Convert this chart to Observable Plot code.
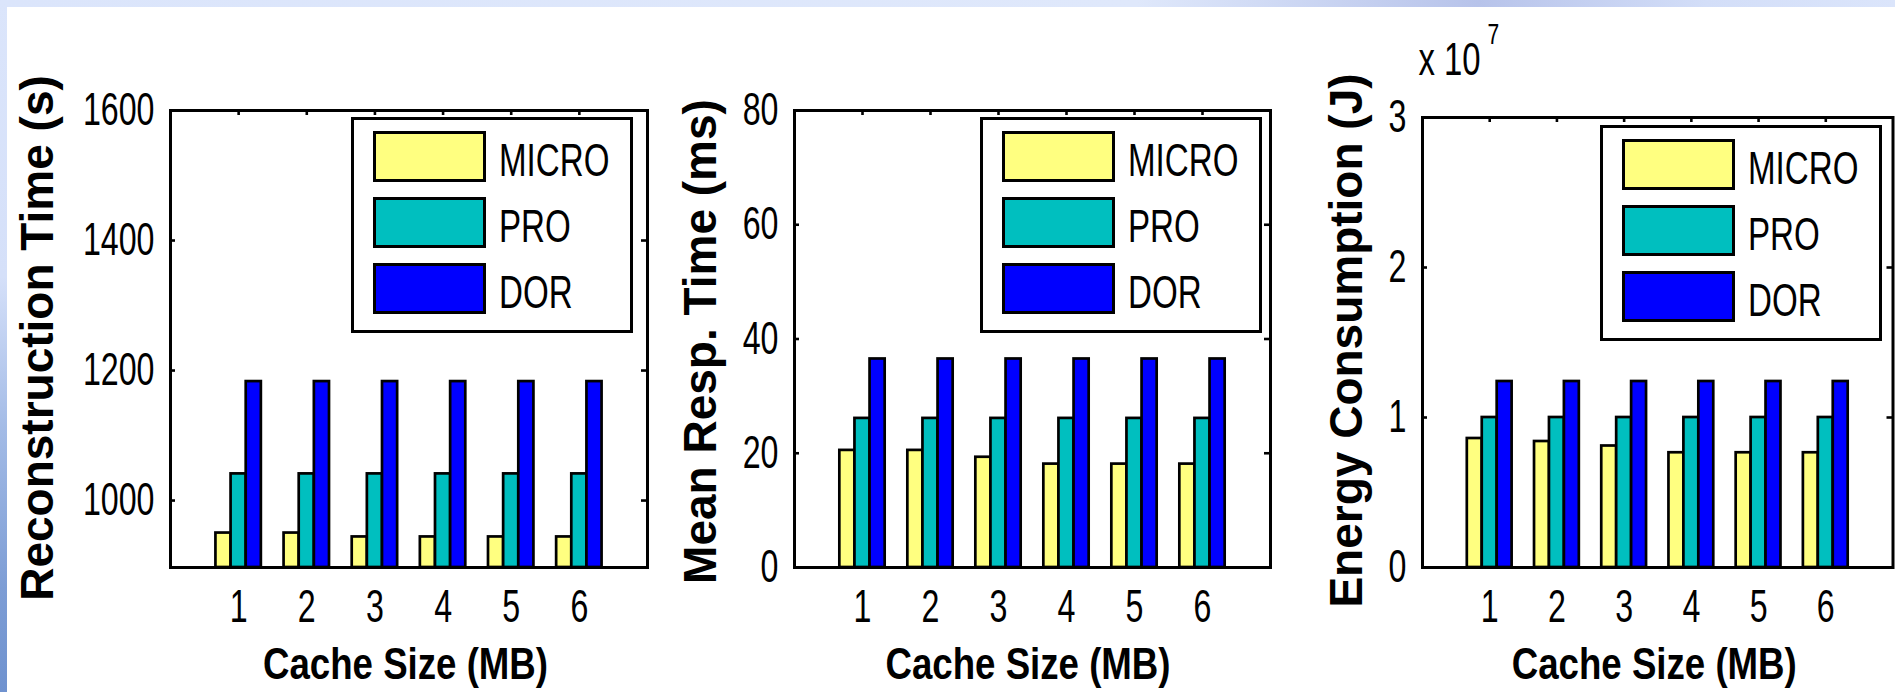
<!DOCTYPE html>
<html>
<head>
<meta charset="utf-8">
<script src="https://cdn.jsdelivr.net/npm/d3@7"></script>
<script src="https://cdn.jsdelivr.net/npm/@observablehq/plot@0.6"></script>
<style>
  html, body { margin: 0; padding: 0; background: #fff; }
  #wrap { position: relative; width: 1895px; height: 692px; overflow: hidden; background: #fff;
          font-family: "Liberation Sans", Arial, sans-serif; }
  #topband { position: absolute; left: 0; top: 0; width: 1895px; height: 7px;
             background: linear-gradient(to right, #dbe5fb, #dfe8fb 60%, #b7c3ea 78%, #d3def8 90%, #dbe5fb); }
  #leftband { position: absolute; left: 0; top: 0; width: 7px; height: 692px;
              background: linear-gradient(to bottom, #dbe5fb, #d5e0f9 40%, #a3bbe6 62%, #7d9dd5 85%, #6f92cf); }
  .panel { position: absolute; top: 0; }
  .legend { position: absolute; box-sizing: border-box; border: 3px solid #000; background: #fff; }
  .sw { position: absolute; box-sizing: border-box; border: 3px solid #000; }
  .lt { position: absolute; font-family: "Liberation Sans", Arial, sans-serif;
        font-size: 46px; color: #000; white-space: nowrap;
        transform: scaleX(0.72); transform-origin: left center; }
</style>
</head>
<body>
<div id="wrap">
  <div id="topband"></div>
  <div id="leftband"></div>
</div>
<script>
// ---- data ----
const cacheSizes = [1, 2, 3, 4, 5, 6];
const seriesNames = ["MICRO", "PRO", "DOR"];
const seriesColors = ["#ffff80", "#00bfbf", "#0000ff"];

const reconMicro = [950, 950, 944, 944, 944, 944];
const reconPro   = [1041, 1041, 1041, 1041, 1041, 1041];
const reconDor   = [1183, 1183, 1183, 1183, 1183, 1183];
const reconTicks = [1000, 1200, 1400, 1600];

const respMicro = [20.5, 20.5, 19.3, 18.1, 18.1, 18.1];
const respPro   = [26.1, 26.1, 26.1, 26.1, 26.1, 26.1];
const respDor   = [36.5, 36.5, 36.5, 36.5, 36.5, 36.5];
const respTicks = [0, 20, 40, 60, 80];

const energyMicro = [8.6e6, 8.4e6, 8.1e6, 7.65e6, 7.65e6, 7.65e6];
const energyPro   = [1.0e7, 1.0e7, 1.0e7, 1.0e7, 1.0e7, 1.0e7];
const energyDor   = [1.24e7, 1.24e7, 1.24e7, 1.24e7, 1.24e7, 1.24e7];
const energyTicks = [0, 1e7, 2e7, 3e7];

const xLabel = "Cache Size (MB)";
const yLabels = ["Reconstruction Time (s)", "Mean Resp. Time (ms)", "Energy Consumption (J)"];

// ---- drawing ----
const wrap = document.getElementById("wrap");
const H = 692, MB = 125;

// the reference uses a condensed face; squeeze horizontal texts around their anchor
function condense(svg) {
  svg.querySelectorAll("text").forEach(t => {
    if (yLabels.includes(t.textContent)) return;
    const tr = t.getAttribute("transform") || "";
    if (/rotate/.test(tr)) return;
    const bold = !!t.closest('[font-weight="bold"]');
    const k = bold ? 0.82 : 0.7;
    t.setAttribute("transform", (tr + ` scale(${k},1)`).trim());
    const x = t.getAttribute("x");
    if (x != null && x !== "" && !isNaN(+x)) t.setAttribute("x", +x / k);
  });
}

function panel(o) {
  const rows = [];
  [o.micro, o.pro, o.dor].forEach((vals, k) =>
    vals.forEach((v, i) => rows.push({size: cacheSizes[i], series: seriesNames[k], k, value: v})));
  const fw = o.width - o.marginLeft - o.marginRight;
  const fh = H - o.marginTop - MB;
  const groupW = 2 / 3, barW = groupW / 3;
  const marks = [
    Plot.rectY(rows, {
      x1: d => d.size - groupW / 2 + d.k * barW,
      x2: d => d.size - groupW / 2 + (d.k + 1) * barW,
      y1: o.yDomain[0], y2: "value", fill: "series",
      stroke: "#000", strokeWidth: 2.7, clip: true
    }),
    Plot.tickY(o.yTicks, {y: d => d, stroke: "#000", strokeWidth: 2.6, insetRight: fw - 5}),
    Plot.tickY(o.yTicks, {y: d => d, stroke: "#000", strokeWidth: 2.6, insetLeft: fw - 6}),
    Plot.tickX(cacheSizes, {x: d => d, stroke: "#000", strokeWidth: 2.6, insetBottom: fh - 5}),
    Plot.frame({stroke: "#000", strokeWidth: 3}),
    // x tick labels, positioned by the x scale
    Plot.text(cacheSizes, {x: d => d, text: d => String(d), frameAnchor: "bottom",
      textAnchor: "middle", lineAnchor: "middle", dy: 40, fontSize: 46}),
    Plot.text([o.yLabel], {text: d => d, frameAnchor: "left", textAnchor: "middle", lineAnchor: "middle",
      rotate: -90, dx: o.yLabelDx, dy: o.yLabelDy,
      fontWeight: "bold", fontSize: 46, fontFamily: "Liberation Sans, Arial, sans-serif"}),
    Plot.text([xLabel], {text: d => d, frameAnchor: "bottom", textAnchor: "middle", lineAnchor: "middle",
      dx: o.xLabelDx, dy: 97, fontWeight: "bold", fontSize: 44.7})
  ];
  if (o.exponent) {
    marks.push(Plot.text([o.exponent[0]], {text: d => d, frameAnchor: "top-left", textAnchor: "start",
      lineAnchor: "bottom", dx: -4, dy: -43, fontSize: 47}));
    marks.push(Plot.text([o.exponent[1]], {text: d => d, frameAnchor: "top-left", textAnchor: "start",
      lineAnchor: "bottom", dx: 65, dy: -74, fontSize: 30}));
  }
  const svg = Plot.plot({
    width: o.width, height: H,
    marginLeft: o.marginLeft, marginRight: o.marginRight, marginTop: o.marginTop, marginBottom: MB,
    style: {background: "transparent", fontFamily: "Liberation Sans, Arial, sans-serif",
            fontSize: "46px", color: "#000", overflow: "visible"},
    x: {domain: [0, 7], axis: null},
    y: {domain: o.yDomain, ticks: o.yTicks, tickSize: 0, tickPadding: 16, label: null, tickFormat: o.yFormat},
    color: {domain: seriesNames, range: seriesColors},
    marks
  });
  condense(svg);
  const div = document.createElement("div");
  div.className = "panel";
  div.style.left = o.left + "px";
  div.style.width = o.width + "px";
  div.style.height = H + "px";
  div.appendChild(svg);
  wrap.appendChild(div);

  // legend overlay
  const box = document.createElement("div");
  box.className = "legend";
  box.style.left = o.legend[0] + "px";
  box.style.top = o.legend[1] + "px";
  box.style.width = "282px";
  box.style.height = "216px";
  seriesNames.forEach((name, k) => {
    const sw = document.createElement("div");
    sw.className = "sw";
    sw.style.left = "19px";
    sw.style.top = (11 + k * 66) + "px";
    sw.style.width = "113px";
    sw.style.height = "51px";
    sw.style.background = seriesColors[k];
    box.appendChild(sw);
    const t = document.createElement("div");
    t.className = "lt";
    t.textContent = name;
    t.style.left = "145px";
    t.style.top = (11 + k * 66) + "px";
    t.style.lineHeight = "59px";
    box.appendChild(t);
  });
  wrap.appendChild(box);
}

panel({left: 0, width: 660, marginLeft: 170, marginRight: 13, marginTop: 110,
  yDomain: [897, 1600], yTicks: reconTicks, yFormat: d => String(d),
  micro: reconMicro, pro: reconPro, dor: reconDor,
  yLabel: yLabels[0], yLabelDx: -132, yLabelDy: -1, xLabelDx: -3.5,
  legend: [351, 117]});

panel({left: 660, width: 640, marginLeft: 134, marginRight: 30, marginTop: 110,
  yDomain: [0, 80], yTicks: respTicks, yFormat: d => String(d),
  micro: respMicro, pro: respPro, dor: respDor,
  yLabel: yLabels[1], yLabelDx: -93, yLabelDy: 2.5, xLabelDx: -4.5,
  legend: [980, 117]});

panel({left: 1300, width: 595, marginLeft: 122, marginRight: 2.5, marginTop: 117,
  yDomain: [0, 3e7], yTicks: energyTicks, yFormat: d => String(d / 1e7),
  micro: energyMicro, pro: energyPro, dor: energyDor,
  yLabel: yLabels[2], yLabelDx: -75, yLabelDy: -2, xLabelDx: -3.5,
  exponent: ["x 10", "7"],
  legend: [1600, 125]});
</script>
</body>
</html>
